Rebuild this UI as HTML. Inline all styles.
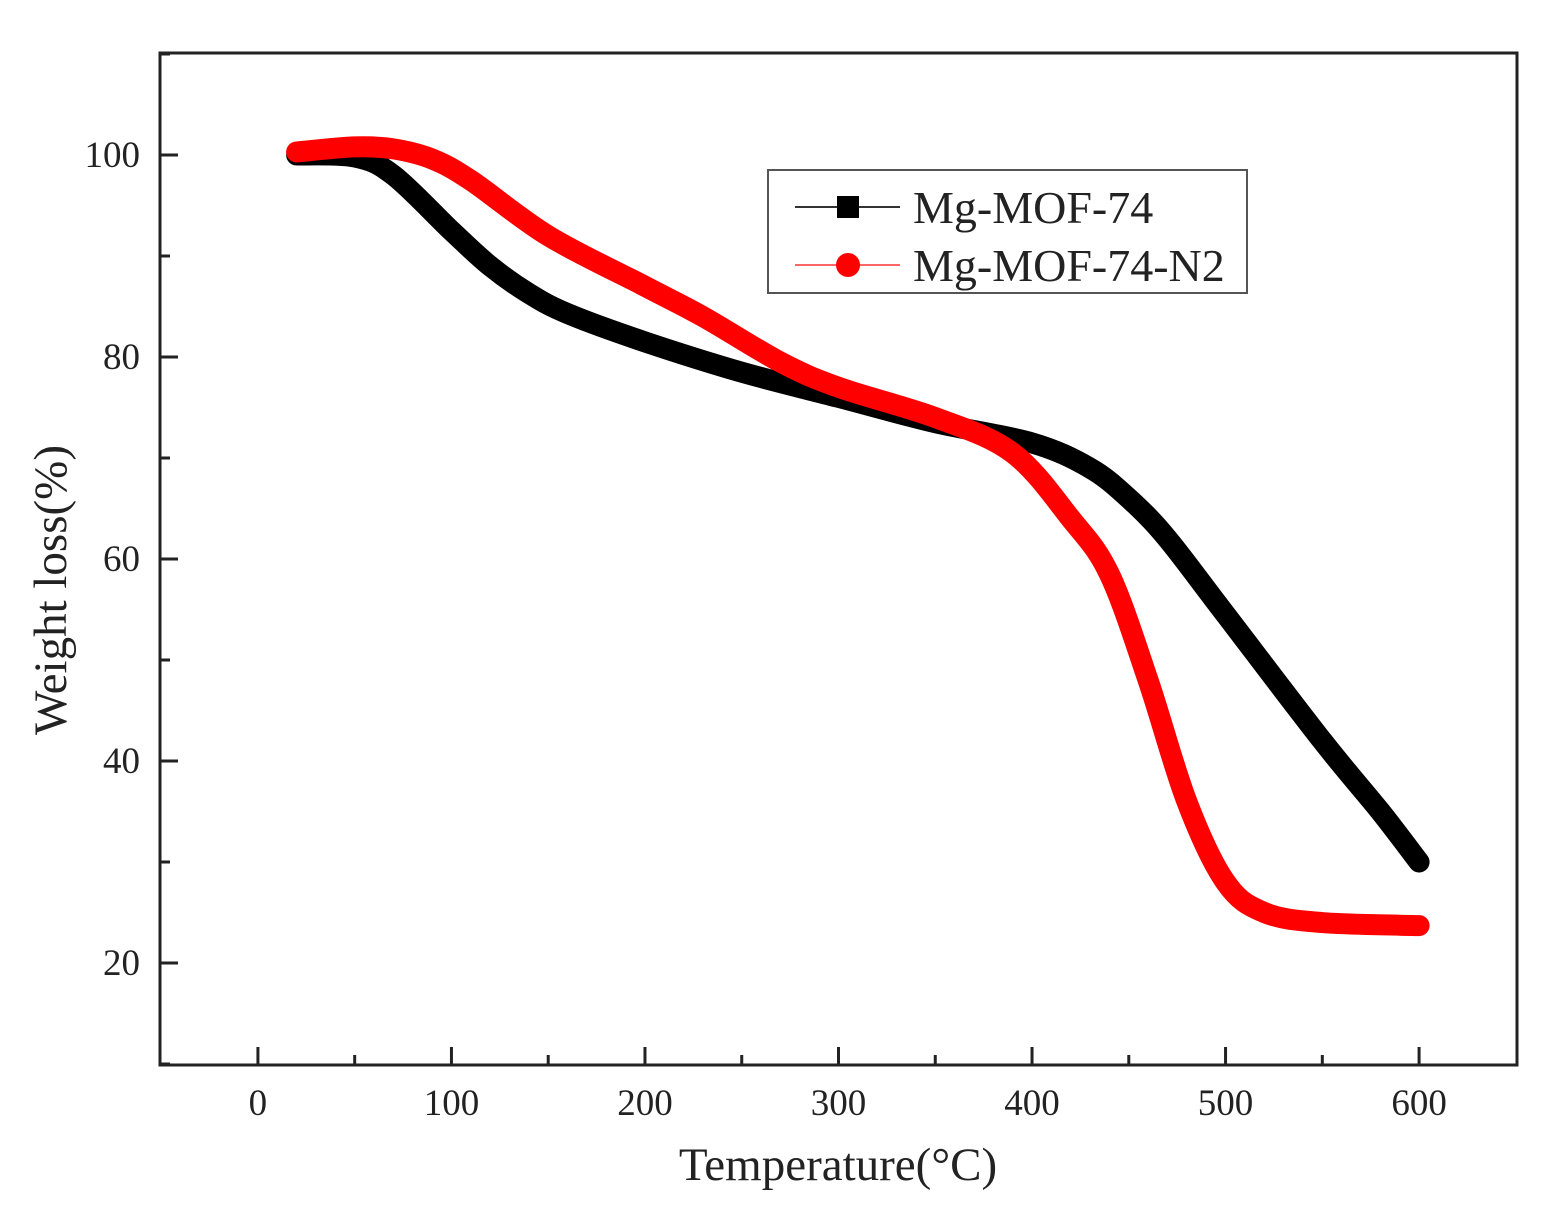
<!DOCTYPE html>
<html><head><meta charset="utf-8"><style>
html,body{margin:0;padding:0;background:#fff;}
svg text{font-family:"Liberation Serif",serif;fill:#222;}
</style></head><body>
<svg id="chart" width="1549" height="1210" xmlns="http://www.w3.org/2000/svg"></svg>
<script>
const xTicks=[0,100,200,300,400,500,600];
const yTicks=[20,40,60,80,100];
const blackT=[20,50,70,100,120,140,160,200,250,300,350,400,430,450,470,500,550,580,600];
const blackW=[100,99.8,98,92.5,89,86.3,84.3,81.5,78.5,76,73.5,71.5,69,66,62,54.5,42,35,30];
const redT=[20,50,70,90,110,150,200,230,270,300,350,390,420,440,460,480,500,520,550,600];
const redW=[100.3,100.8,100.6,99.6,97.5,92,87,84,79.5,77,74,70.5,64,58.5,48,36,28,25,24,23.7];

const L=160,R=1517,T=53,B=1065;
const xmin=-50.6,xmax=650.6,ymin=9.9,ymax=110.1;
const sx=v=>L+(v-xmin)/(xmax-xmin)*(R-L);
const sy=v=>B-(v-ymin)/(ymax-ymin)*(B-T);
const svg=document.getElementById('chart');
const NS='http://www.w3.org/2000/svg';
function mk(tag,attrs,parent){const e=document.createElementNS(NS,tag);for(const k in attrs)e.setAttribute(k,attrs[k]);(parent||svg).appendChild(e);return e;}

function smooth(ts,ws){
  const p=ts.map((t,i)=>[sx(t),sy(ws[i])]);let d='M'+p[0][0]+','+p[0][1];
  for(let i=0;i<p.length-1;i++){const p0=p[i-1]||p[i],p1=p[i],p2=p[i+1],p3=p[i+2]||p2;
    const c1=[p1[0]+(p2[0]-p0[0])/6,p1[1]+(p2[1]-p0[1])/6],c2=[p2[0]-(p3[0]-p1[0])/6,p2[1]-(p3[1]-p1[1])/6];
    d+='C'+c1[0].toFixed(1)+','+c1[1].toFixed(1)+' '+c2[0].toFixed(1)+','+c2[1].toFixed(1)+' '+p2[0].toFixed(1)+','+p2[1].toFixed(1);}
  return d;}

const bl=mk('path',{d:smooth(blackT,blackW),fill:'none',stroke:'#000','stroke-width':21,'stroke-linecap':'round','stroke-linejoin':'round'});


const rl=mk('path',{d:smooth(redT,redW),fill:'none',stroke:'#f00','stroke-width':21,'stroke-linecap':'round','stroke-linejoin':'round'});



const frame=mk('rect',{x:L,y:T,width:R-L,height:B-T,fill:'none',stroke:'#222','stroke-width':3});



for(let v=0;v<=600;v+=50){const x=sx(v);const len=v%100===0?18:10;
  const t=mk('line',{x1:x,y1:B,x2:x,y2:B-len,stroke:'#222','stroke-width':3});
  
  }
xTicks.forEach(v=>{const t=mk('text',{x:sx(v),y:B+50,'font-size':37,'text-anchor':'middle'});t.textContent=v;
  
  });
for(let v=10;v<=110;v+=10){const y=sy(v);const len=v%20===0?18:10;
  const t=mk('line',{x1:L,y1:y,x2:L+len,y2:y,stroke:'#222','stroke-width':3});
  
  }
yTicks.forEach(v=>{const t=mk('text',{x:L-20,y:sy(v)+12,'font-size':37,'text-anchor':'end'});t.textContent=v;
  
  });

const xt=mk('text',{x:838,y:1180,'font-size':47,'text-anchor':'middle'});xt.textContent='Temperature(°C)';


const yt=mk('text',{x:0,y:0,'font-size':47,'text-anchor':'middle',transform:'translate(66,590) rotate(-90)'});yt.textContent='Weight loss(%)';



const lg=mk('g',{});


mk('rect',{x:768,y:170,width:479,height:123,fill:'#fff',stroke:'#555','stroke-width':2},lg);
mk('line',{x1:795,y1:207,x2:900,y2:207,stroke:'#333','stroke-width':2},lg);
mk('rect',{x:837,y:196,width:22,height:22,fill:'#000'},lg);
const t1=mk('text',{x:913,y:223,'font-size':46},lg);t1.textContent='Mg-MOF-74';
mk('line',{x1:795,y1:265,x2:900,y2:265,stroke:'#f66','stroke-width':2},lg);
mk('circle',{cx:848,cy:265,r:12,fill:'#f00'},lg);
const t2=mk('text',{x:913,y:281,'font-size':46},lg);t2.textContent='Mg-MOF-74-N2';
</script>
</body></html>
